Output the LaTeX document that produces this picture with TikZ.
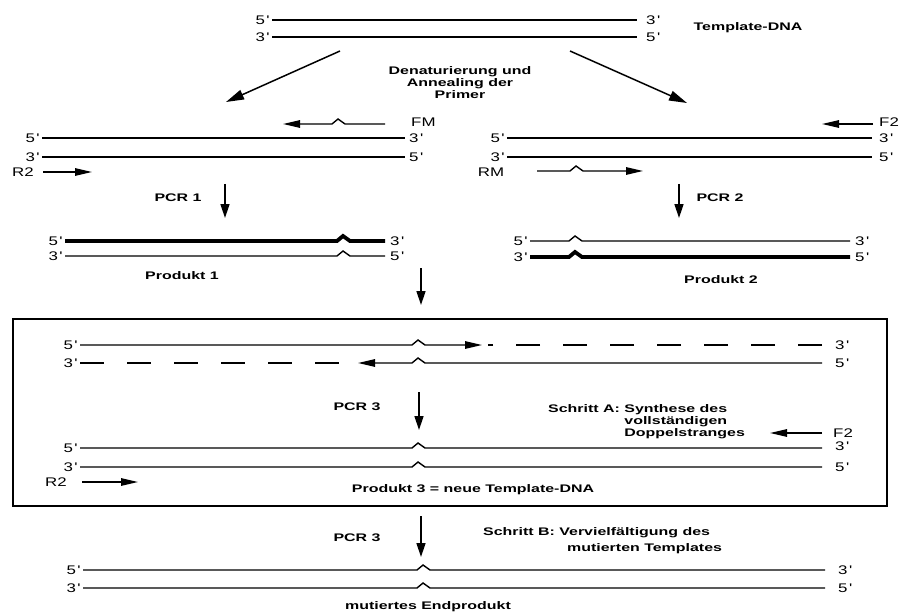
\documentclass[tikz,border=0pt]{standalone}
\usepackage{fontspec}
\setmainfont{Liberation Sans}
\newfontfamily\labf{Liberation Sans}[FakeStretch=1.35]
\newfontfamily\bldf{Liberation Sans}[FakeStretch=1.45]
\usetikzlibrary{arrows.meta}
\newcommand\ap{\hspace{1.5pt}\textquotesingle}
\begin{document}
\begin{tikzpicture}[x=1pt,y=-1pt,
  strand/.style={line width=1.4pt},
  thickstrand/.style={line width=3.8pt,line join=miter},
  primer/.style={line width=1.4pt,-{Triangle[length=17pt,width=7.5pt]}},
  procarrow/.style={line width=1.5pt,-{Triangle[length=14pt,width=9pt]}},
  diagarrow/.style={line width=1.5pt,-{Triangle[length=18pt,width=10pt]}},
  lab/.style={font=\labf\fontsize{12.5}{14}\selectfont,inner sep=0pt},
  lblL/.style={lab,anchor=east,xshift=-3pt},
  lblR/.style={lab,anchor=west,xshift=9pt},
  bl/.style={font=\bldf\bfseries\fontsize{11}{12}\selectfont,inner sep=0pt},
  bump/.style 2 args={insert path={-- (#1-6,#2) -- (#1,#2-5) -- (#1+7,#2)}},
  bumpl/.style 2 args={insert path={-- (#1+7,#2) -- (#1,#2-5) -- (#1-6,#2)}},
]
\useasboundingbox (0,0) rectangle (900,615);

% ---------- top template ----------
\coordinate (T1a) at (272,20); \coordinate (T1b) at (637,20);
\coordinate (T2a) at (272,37); \coordinate (T2b) at (637,37);
\draw[strand] (T1a) -- (T1b);
\draw[strand] (T2a) -- (T2b);
\node[lblL] (t1l) at (T1a) {5\ap};
\node[lblR] (t1r) at (T1b) {3\ap};
\node[lblL] (t2l) at (T2a) {3\ap};
\node[lblR] (t2r) at (T2b) {5\ap};
\node[bl] (tdna) at (748,28) {Template-DNA};

\coordinate (dL0) at (340,51); \coordinate (dL1) at (226,102);
\coordinate (dR0) at (570,51); \coordinate (dR1) at (687,103);
\draw[diagarrow] (dL0) -- (dL1);
\draw[diagarrow] (dR0) -- (dR1);
\node[bl,align=center] (den) at (460,83) {Denaturierung und\\Annealing der\\Primer};

% ---------- left panel ----------
\coordinate (FMt) at (385,124); \coordinate (FMh) at (283,124);
\draw[primer] (FMt) [bumpl={338}{124}] -- (FMh);
\node[lab,anchor=west] (fm) at (411,122) {FM};
\coordinate (L1a) at (42,138); \coordinate (L1b) at (405,138);
\coordinate (L2a) at (42,157); \coordinate (L2b) at (405,157);
\draw[strand] (L1a) -- (L1b);
\draw[strand] (L2a) -- (L2b);
\node[lblL] (l1l) at (L1a) {5\ap};
\node[lblR,xshift=-5pt] (l1r) at (L1b) {3\ap};
\node[lblL] (l2l) at (L2a) {3\ap};
\node[lblR,xshift=-5pt] (l2r) at (L2b) {5\ap};
\node[lab] (r2a) at (23,172) {R2};
\coordinate (R2t) at (43,172); \coordinate (R2h) at (92,172);
\draw[primer] (R2t) -- (R2h);

\coordinate (P1t) at (225,184); \coordinate (P1h) at (225,218);
\draw[procarrow] (P1t) -- (P1h);
\node[bl] (pcr1) at (178,198) {PCR 1};

\coordinate (Q1a) at (65,241); \coordinate (Q1b) at (385,241);
\coordinate (Q2a) at (65,256); \coordinate (Q2b) at (385,256);
\draw[thickstrand] (Q1a) [bump={343}{241}] -- (Q1b);
\draw[strand] (Q2a) [bump={343}{256}] -- (Q2b);
\node[lblL] (q1l) at (Q1a) {5\ap};
\node[lblR,xshift=-4pt] (q1r) at (Q1b) {3\ap};
\node[lblL] (q2l) at (Q2a) {3\ap};
\node[lblR,xshift=-4pt] (q2r) at (Q2b) {5\ap};
\node[bl] (prod1) at (182,276) {Produkt 1};

% ---------- right panel ----------
\coordinate (F2t) at (873,124); \coordinate (F2h) at (822,124);
\draw[primer] (F2t) -- (F2h);
\node[lab,anchor=west] (f2a) at (879,122) {F2};
\coordinate (M1a) at (507,138); \coordinate (M1b) at (872,138);
\coordinate (M2a) at (507,157); \coordinate (M2b) at (872,157);
\draw[strand] (M1a) -- (M1b);
\draw[strand] (M2a) -- (M2b);
\node[lblL] (m1l) at (M1a) {5\ap};
\node[lblR,xshift=-2pt] (m1r) at (M1b) {3\ap};
\node[lblL] (m2l) at (M2a) {3\ap};
\node[lblR,xshift=-2pt] (m2r) at (M2b) {5\ap};
\node[lab] (rm) at (491,172) {RM};
\coordinate (RMt) at (537,171); \coordinate (RMh) at (643,171);
\draw[primer] (RMt) [bump={576}{171}] -- (RMh);

\coordinate (P2t) at (679,184); \coordinate (P2h) at (679,218);
\draw[procarrow] (P2t) -- (P2h);
\node[bl] (pcr2) at (720,198) {PCR 2};

\coordinate (N1a) at (530,241); \coordinate (N1b) at (850,241);
\coordinate (N2a) at (530,257); \coordinate (N2b) at (850,257);
\draw[strand] (N1a) [bump={575}{241}] -- (N1b);
\draw[thickstrand] (N2a) [bump={575}{257}] -- (N2b);
\node[lblL] (n1l) at (N1a) {5\ap};
\node[lblR,xshift=-4pt] (n1r) at (N1b) {3\ap};
\node[lblL] (n2l) at (N2a) {3\ap};
\node[lblR,xshift=-4pt] (n2r) at (N2b) {5\ap};
\node[bl] (prod2) at (721,280) {Produkt 2};

% ---------- middle arrow ----------
\coordinate (MAt) at (421,268); \coordinate (MAh) at (421,305);
\draw[procarrow] (MAt) -- (MAh);

% ---------- box ----------
\draw[line width=1.6pt] (13,319) rectangle (887,506);

\coordinate (A1a) at (80,345); \coordinate (A1h) at (482,345);
\coordinate (A1d) at (488,345); \coordinate (A1b) at (822,345);
\draw[primer] (A1a) [bump={418}{345}] -- (A1h);
\draw[strand,dash pattern=on 24pt off 23pt] (A1b) -- (A1d);
\node[lblL] (a1l) at (A1a) {5\ap};
\node[lblR,xshift=4pt] (a1r) at (A1b) {3\ap};

\coordinate (A2a) at (80,363); \coordinate (A2d) at (340,363);
\coordinate (A2h) at (358,363); \coordinate (A2b) at (822,363);
\draw[strand,dash pattern=on 24pt off 23pt] (A2a) -- (A2d);
\draw[primer] (A2b) [bumpl={418}{363}] -- (A2h);
\node[lblL] (a2l) at (A2a) {3\ap};
\node[lblR,xshift=4pt] (a2r) at (A2b) {5\ap};

\coordinate (P3t) at (419,392); \coordinate (P3h) at (419,430);
\draw[procarrow] (P3t) -- (P3h);
\node[bl] (pcr3a) at (357,407) {PCR 3};
\node[bl,anchor=west] (schrA) at (548,422)
  {\begin{tabular}{@{}l@{ }l@{}}Schritt A: & Synthese des\\ & vollständigen\\ & Doppelstranges\end{tabular}};

\coordinate (F2bt) at (822,433); \coordinate (F2bh) at (770,433);
\draw[primer] (F2bt) -- (F2bh);
\node[lab,anchor=west] (f2b) at (833,433) {F2};

\coordinate (C1a) at (80,448); \coordinate (C1b) at (822,448);
\coordinate (C2a) at (80,467); \coordinate (C2b) at (822,467);
\draw[strand] (C1a) [bump={418}{448}] -- (C1b);
\draw[strand] (C2a) [bump={418}{467}] -- (C2b);
\node[lblL] (c1l) at (C1a) {5\ap};
\node[lblR,xshift=4pt] (c1r) at ([yshift=2pt]C1b) {3\ap};
\node[lblL] (c2l) at (C2a) {3\ap};
\node[lblR,xshift=4pt] (c2r) at (C2b) {5\ap};
\node[lab] (r2b) at (56,482) {R2};
\coordinate (R2bt) at (82,482); \coordinate (R2bh) at (138,482);
\draw[primer] (R2bt) -- (R2bh);
\node[bl] (prod3) at (473,490) {Produkt 3 = neue Template-DNA};

% ---------- bottom ----------
\coordinate (P4t) at (421,516); \coordinate (P4h) at (421,557);
\draw[procarrow] (P4t) -- (P4h);
\node[bl] (pcr3b) at (357,538) {PCR 3};
\node[bl,anchor=west,align=left] (schrB) at (483,541)
  {Schritt B: Vervielfältigung des\\[4pt]\hspace*{84pt}mutierten Templates};

\coordinate (E1a) at (83,570); \coordinate (E1b) at (825,570);
\coordinate (E2a) at (83,588); \coordinate (E2b) at (825,588);
\draw[strand] (E1a) [bump={423}{570}] -- (E1b);
\draw[strand] (E2a) [bump={423}{588}] -- (E2b);
\node[lblL] (e1l) at (E1a) {5\ap};
\node[lblR,xshift=4pt] (e1r) at (E1b) {3\ap};
\node[lblL] (e2l) at (E2a) {3\ap};
\node[lblR,xshift=4pt] (e2r) at (E2b) {5\ap};
\node[bl] (endp) at (428,607) {mutiertes Endprodukt};
\end{tikzpicture}
\end{document}
